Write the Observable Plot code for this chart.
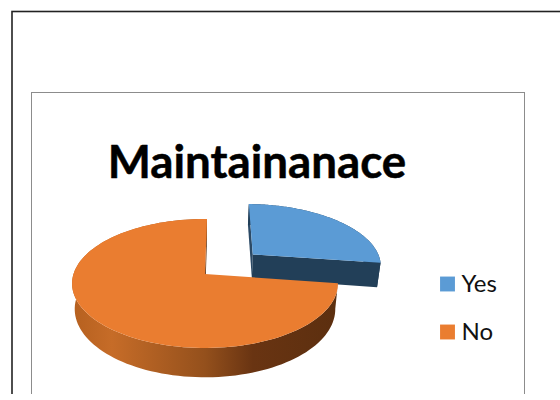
<!DOCTYPE html>
<html>
<head>
<meta charset="utf-8">
<script src="https://cdn.jsdelivr.net/npm/d3@7"></script>
<script src="https://cdn.jsdelivr.net/npm/@observablehq/plot@0.6"></script>
<style>
html,body{margin:0;padding:0;background:#fff;overflow:hidden}
svg{display:block}
</style>
</head>
<body>
<div id="chart"></div>
<script>
const title = "Maintainanace";
const categories = ["Yes", "No"];
const shares = [27, 73];
const topColors = ["#5B9BD5", "#EA7D30"];
const wallColors = ["#223F58", "url(#wallGrad)"];
const explode = [0.5, 0];
const wallStops = [[0, "#B5601F"], [0.15, "#C66C28"], [0.5, "#94501C"], [0.68, "#693412"], [1, "#5C2F0F"]];

// Projection of the tilted unit disc
const cx = 205, cy = 274, rx = 131.5, ry = 63.1, persp = 0.147, depth = 25, shrink = 0.98;
const firstSlice = 1 * Math.PI / 180;
function project(u, v, low) {
  const s = 1 / (1 + persp * v);
  const px = rx * u * s, py = -ry * v * s;
  return low ? {x: cx + px * shrink, y: cy + py + depth * s} : {x: cx + px, y: cy + py};
}

const total = d3.sum(shares);
let acc = 0;
const slices = categories.map((name, i) => {
  const a0 = firstSlice + acc / total * 2 * Math.PI;
  acc += shares[i];
  const a1 = firstSlice + acc / total * 2 * Math.PI;
  const mid = (a0 + a1) / 2;
  const ou = explode[i] * Math.sin(mid), ov = explode[i] * Math.cos(mid);
  const angles = d3.range(0, 121).map(k => a0 + (a1 - a0) * k / 120);
  const rim = angles.map(a => ({u: ou + Math.sin(a), v: ov + Math.cos(a)}));
  return {name, i, ou, ov, rim};
});

const pair = (p, q) => {
  const a = project(p.u, p.v, false), b = q;
  return {x1: a.x, y1: a.y, x2: b.x, y2: b.y};
};
// Fan from the apex to the rim (top face)
const face = s => {
  const apex = project(s.ou, s.ov, false);
  return s.rim.map(p => { const r = project(p.u, p.v, false); return {x1: apex.x, y1: apex.y, x2: r.x, y2: r.y}; });
};
// Outer wall: top rim to bottom rim
const wall = s => s.rim.map(p => pair(p, project(p.u, p.v, true)));
// Cut face between apex and one rim end
const cut = (s, p) => [{u: s.ou, v: s.ov}, p].map(q => pair(q, project(q.u, q.v, true)));

const areaOpts = fill => ({x1: "x1", y1: "y1", x2: "x2", y2: "y2", fill, curve: "linear"});
const [yes, no] = slices;
const last = s => s.rim[s.rim.length - 1];

const defs = () => {
  const ns = "http://www.w3.org/2000/svg";
  const d = document.createElementNS(ns, "defs");
  const g = document.createElementNS(ns, "linearGradient");
  g.setAttribute("id", "wallGrad");
  g.setAttribute("gradientUnits", "userSpaceOnUse");
  g.setAttribute("x1", 72); g.setAttribute("x2", 338);
  g.setAttribute("y1", 0); g.setAttribute("y2", 0);
  for (const [o, c] of wallStops) {
    const st = document.createElementNS(ns, "stop");
    st.setAttribute("offset", o); st.setAttribute("stop-color", c);
    g.appendChild(st);
  }
  d.appendChild(g);
  return d;
};

const legendRows = categories.map((name, i) => ({name, i, color: topColors[i]}));

const plot = Plot.plot({
  width: 560, height: 400, margin: 0,
  x: {domain: [0, 560], range: [0, 560], axis: null},
  y: {domain: [0, 400], range: [0, 400], axis: null},
  style: {background: "#fff"},
  marks: [
    defs,
    Plot.rect([0], {x1: () => 12, x2: () => 640, y1: () => 11.5, y2: () => 500, fill: "none", stroke: "#222", strokeWidth: 1.6}),
    Plot.rect([0], {x1: () => 31.5, x2: () => 524.5, y1: () => 92.5, y2: () => 500, fill: "none", stroke: "#8c8c8c", strokeWidth: 1}),
    Plot.text([title], {x: () => 256.5, y: () => 163, text: d => d, fontFamily: "Lato", fontWeight: 700, fontSize: 45.7, fill: "#000", stroke: "#000", strokeWidth: 0.5}),
    // Yes slice
    Plot.area(cut(yes, yes.rim[0]), areaOpts("#2c4a66")),
    Plot.area(cut(yes, last(yes)), areaOpts(wallColors[0])),
    Plot.area(wall(yes), areaOpts(wallColors[0])),
    Plot.area(face(yes), areaOpts(topColors[0])),
    // No slice
    Plot.area(cut(no, last(no)), areaOpts("#5C2F0F")),
    Plot.area(wall(no), areaOpts(wallColors[1])),
    Plot.area(face(no), areaOpts(topColors[1])),
    // Legend
    Plot.dot(legendRows, {x: () => 447, y: d => 283.5 + 48 * d.i, symbol: "square", r: 8.4, fill: "color", stroke: null}),
    Plot.text(legendRows, {x: () => 461, y: d => 283.5 + 48 * d.i, text: "name", textAnchor: "start", fontFamily: "Lato", fontSize: 24, fill: "#111"}),
    // Photo edge
    Plot.rect([0], {x1: () => 0, x2: () => 560, y1: () => 394, y2: () => 400, fill: "#fff"})
  ]
});
document.getElementById("chart").appendChild(plot);
</script>
</body>
</html>
